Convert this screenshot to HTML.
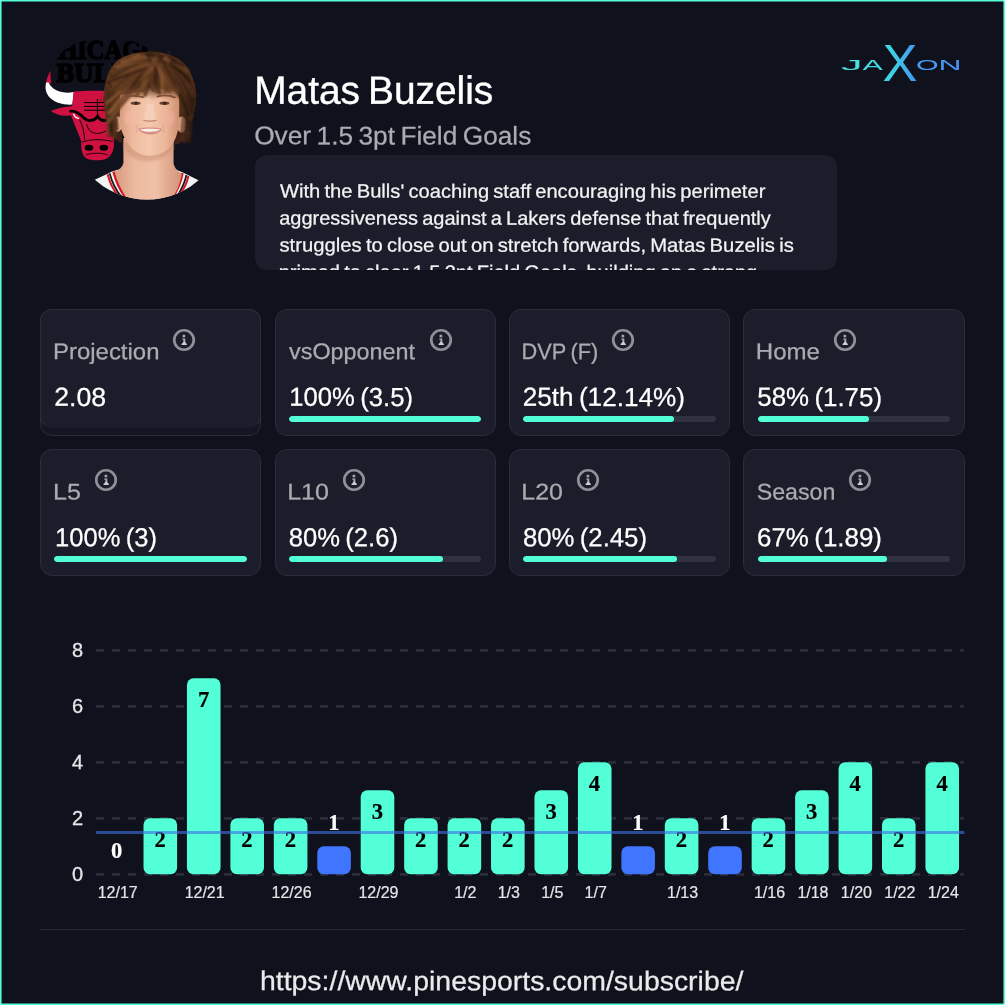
<!DOCTYPE html>
<html lang="en"><head><meta charset="utf-8"><title>Matas Buzelis - Over 1.5 3pt Field Goals</title>
<style>
*{box-sizing:border-box}
html,body{margin:0;padding:0;background:#fff}
body{width:1006px;height:1006px;overflow:hidden;font-family:'Liberation Sans', sans-serif;}
#page{position:absolute;left:0;top:0;width:1006px;height:1006px;overflow:hidden;background:#fff}
.frame{position:absolute;left:0;top:0}
header,section,figure,footer{display:block;margin:0;padding:0}
.t{position:absolute;white-space:pre;line-height:1;transform-origin:0 0;display:block;margin:0;padding:0;font-weight:400;text-decoration:none;word-spacing:-0.07em}
.t.b{-webkit-text-stroke:0.25px currentColor}
.t.b2{-webkit-text-stroke:0.4px currentColor}
.avatar{position:absolute;left:0;top:0}
.logo{position:absolute;left:836px;top:36px}
.desc{position:absolute;left:255px;top:155px;width:581.6px;height:115px;background:#1c1d2a;border-radius:12px;overflow:hidden}
.card{position:absolute;width:221px;height:127px;background:#1c1d2a;border:1px solid #2b2c3a;border-radius:12px}
.card.proj{background:#151623}
.card.proj .inner{position:absolute;left:-1px;top:-1px;width:221px;height:119px;background:#1c1d2a;border:1px solid #2b2c3a;border-bottom-color:transparent;border-radius:12px}
.info{position:absolute;top:17.5px;width:24px;height:24px}
.bar{position:absolute;left:13.1px;top:105.8px;width:192.8px;height:6.2px;border-radius:3.1px;background:#31323f;overflow:hidden}
.bar i{display:block;height:100%;border-radius:3.1px;background:#52ffd7}
.chart{position:absolute;left:0;top:620px}
.rule{position:absolute;left:40px;top:929px;width:925px;height:1px;background:#252735}
</style></head><body>
<div id="page">
<svg class="frame" width="1006" height="1006" viewBox="0 0 1006 1006"><rect x="0.78" y="0.78" width="1003.44" height="1003.44" fill="#0f111d" stroke="#52ffd7" stroke-width="1.56" rx="1"/></svg>
<header>
<svg class="avatar" width="240" height="220" viewBox="0 0 240 220" aria-label="Matas Buzelis, Chicago Bulls">
  <defs>
    <clipPath id="logoClip"><rect x="45" y="40" width="125" height="125" rx="50" ry="50"/></clipPath>
    <clipPath id="faceClip"><circle cx="147" cy="120.5" r="79"/></clipPath>
    <filter id="soft" x="-10%" y="-10%" width="120%" height="120%"><feGaussianBlur stdDeviation="0.7"/></filter>
    <filter id="soft1" x="-10%" y="-10%" width="120%" height="120%"><feGaussianBlur stdDeviation="1"/></filter>
    <filter id="soft2" x="-20%" y="-20%" width="140%" height="140%"><feGaussianBlur stdDeviation="1.6"/></filter>
    <filter id="soft3" x="-30%" y="-30%" width="160%" height="160%"><feGaussianBlur stdDeviation="3"/></filter>
    <linearGradient id="skin" x1="0" y1="0" x2="1" y2="0">
      <stop offset="0" stop-color="#d99c7e"/><stop offset="0.22" stop-color="#eebb9f"/><stop offset="0.5" stop-color="#f4c8ae"/><stop offset="0.78" stop-color="#ebb598"/><stop offset="1" stop-color="#d08f72"/>
    </linearGradient>
    <linearGradient id="neck" x1="0" y1="0" x2="1" y2="0">
      <stop offset="0" stop-color="#d89a7d"/><stop offset="0.3" stop-color="#ecba9f"/><stop offset="0.6" stop-color="#f0c1a7"/><stop offset="1" stop-color="#d39378"/>
    </linearGradient>
    <linearGradient id="fr" gradientUnits="userSpaceOnUse" x1="0" y1="84" x2="0" y2="102"><stop offset="0" stop-color="#6b4024" stop-opacity="0"/><stop offset="0.4" stop-color="#6f4327" stop-opacity="0.7"/><stop offset="0.7" stop-color="#7e4f30" stop-opacity="0.3"/><stop offset="1" stop-color="#8a5a3a" stop-opacity="0"/></linearGradient>
    <radialGradient id="hair" gradientUnits="userSpaceOnUse" cx="146" cy="78" r="62">
      <stop offset="0" stop-color="#754827"/><stop offset="0.55" stop-color="#5e381f"/><stop offset="1" stop-color="#3f2416"/>
    </radialGradient>
  </defs>
  <g clip-path="url(#logoClip)">
    <g font-family="'Liberation Serif', serif" font-weight="700" font-size="26.4" fill="#000" stroke="#000" stroke-width="1.5" stroke-linejoin="round">
      <text x="40.5" y="59.3" textLength="120" lengthAdjust="spacingAndGlyphs">CHICAGO</text>
      <text x="56.4" y="82.4" textLength="88" lengthAdjust="spacingAndGlyphs">BULLS</text>
    </g>
    <path d="M50.6 70.6 C48.2 75 46.6 79 46.1 83 L51.2 83.4 C50.5 78.6 50.4 74.4 50.6 70.6Z" fill="#ce1141"/>
    <path d="M46 82.6 C43.8 91.5 48.6 99.6 58 102.8 C62.6 104.4 67.4 104.8 72.4 104.6 L73.8 92.1 C65.8 93.4 58.4 92.6 53.4 88.6 C51 86.8 49.4 84.6 48.6 82.6Z" fill="#fff"/>
    <path d="M73.7 91.5 C86 90.4 102 90.5 120 91.6 L120 134 L113.6 135 L113.9 141.5 C114.6 150 111 157.6 104.4 159.4 C98.4 160.9 91 160.6 86.2 158.2 C82 155.6 80.6 148.6 81.4 141.6 L70.9 115.2 C64 116.8 57 115.4 50.8 111.1 C57 108.2 64.4 106.6 72.1 106.2 Z" fill="#ce1141"/>
    <path d="M70.6 111.2 C75.4 110.2 79.4 113.4 83.4 117.4 C88 122 94.4 121.4 97.6 116.2 C100 120.4 104 121.4 108.4 119.4" fill="none" stroke="#000" stroke-width="2.8" stroke-linecap="round"/>
    <path d="M73.6 113.6 C74.2 116.2 76.2 118 79.2 118.6" fill="none" stroke="#fff" stroke-width="1.4"/>
    <path d="M84 102.6 H105 M84 106.4 H105 M84 110.2 H105 M97.4 99 V116" fill="none" stroke="#000" stroke-width="1"/>
    <path d="M79.6 119.6 C82.8 126 84.4 133 84.6 140 M86.6 124 C88 132.4 96 136.4 106 131" fill="none" stroke="#000" stroke-width="0.9"/>
    <path d="M82.4 142 C91 139 103 139 112.6 141.6" fill="none" stroke="#000" stroke-width="0.9"/>
    <ellipse cx="89" cy="147.8" rx="4.3" ry="3" fill="#000"/>
    <ellipse cx="103.8" cy="147.8" rx="4.3" ry="3" fill="#000"/>
    <path d="M86 155 C92 152.6 102 152.6 108 155" fill="none" stroke="#000" stroke-width="0.8"/>
  </g>
  <g clip-path="url(#faceClip)">
    <!-- jersey -->
    <path d="M92 181 L106 174.6 L112 171.4 L124 168 L172 168 L183 172.6 L190 176 L202 182 L202 202 L92 202 Z" fill="#f2f2f3"/>
    <path d="M107.6 174.2 C109.6 182 113 189.4 118 195.6 M188.4 176 C187 182.6 184 189 180 194.4" fill="none" stroke="#d5151f" stroke-width="2"/>
    <path d="M109.6 173.2 C111.8 181.4 115.4 189.4 121 196.4 M186.4 175 C185 181.8 182 188.6 177.6 195.4" fill="none" stroke="#15151a" stroke-width="1.7"/>
    <path d="M113.6 171.6 C116 181 120 190 126 198 M182.4 173 C181 181 177.6 189.4 172.6 197" fill="none" stroke="#d5151f" stroke-width="2.6"/>
    <!-- neck + chest skin -->
    <path d="M123.4 138 L123.4 163 C122.6 167 119 170 114.6 171.6 C117 181 121.4 191 128 200 L171 200 C176.6 192 180.4 183 181.8 173.4 C177.6 171.4 174.4 168 173.6 163.6 L173.6 138 Z" fill="url(#neck)"/>
    <path d="M124 150 C131 158 140 161 148 161 C157 161 166 157 173.4 149 L173.4 141 L124 141 Z" fill="#c98d70" opacity="0.5" filter="url(#soft2)"/>
    <!-- hair back -->
    <path d="M149.8 52 C158 51.4 168 53.4 176 57.4 C184 61.6 190.6 70 193 79 C196 87 197 97 195.6 105 C194 113 192 120 190 127 C188.6 133 186 138 182 141.4 C180 143.4 177.4 144.4 175 144 L175 108 L122 108 L122 143 C118 142 114.4 138.4 111.4 133 C108 127 106 119 105 111 C103.4 103 103 95 104.4 88 C105.6 80 108 72 112.4 66 C116 60.6 121 57.4 127 55.4 C134 53 142 52 149.8 52 Z" fill="url(#hair)" filter="url(#soft)"/>
    <!-- ears -->
    <ellipse cx="117.6" cy="124" rx="4.6" ry="7.8" fill="#e9b196"/>
    <ellipse cx="181.8" cy="124.6" rx="4.8" ry="8.2" fill="#dfa487"/>
    <!-- face -->
    <path d="M119.8 100 C119.8 92 126 87 149 87 C172 87 179.2 92 179.2 100 L179.2 119 C179 128 177 136 173.4 143 C169 150 160 155.6 149.6 155.8 C139.6 155.6 132 150 127.6 143 C123 136 120 128 119.8 119 Z" fill="url(#skin)"/>
    <ellipse cx="131" cy="118" rx="7" ry="8" fill="#f3b9a4" opacity="0.55" filter="url(#soft2)"/>
    <ellipse cx="168" cy="118" rx="7" ry="8" fill="#f0b29c" opacity="0.5" filter="url(#soft2)"/>
    <!-- fringe -->
    <path d="M106 104 C105 84 117 60 148 58.6 C178 58.6 193 82 192.4 104 C189 99 184 94 179 94.4 C176 90 170 91.4 165 90 C160.6 86.6 156 87.6 153 92.4 C151.6 88.6 148 86 145.6 90 C143 94 139.4 90.6 135.6 91.6 C131 91.2 127.6 94.4 124.4 94.6 C119 94 111.6 98 106 104 Z" fill="#633b21" filter="url(#soft)"/>
    <g fill="none" stroke-linecap="round" filter="url(#soft1)">
      <path d="M106.6 97.0Q109.5 116.3 108.9 135.7" stroke="#2f1b11" stroke-width="3.1"/>
      <path d="M106.1 92.4Q111.3 111.6 109.3 131.4" stroke="#623b21" stroke-width="1.8"/>
      <path d="M109.9 103.0Q110.5 121.2 114.8 138.9" stroke="#2f1b11" stroke-width="2.5"/>
      <path d="M108.4 94.8Q110.8 114.4 113.3 134.0" stroke="#2f1b11" stroke-width="2.5"/>
      <path d="M108.1 95.0Q112.0 109.3 110.4 124.1" stroke="#623b21" stroke-width="2.3"/>
      <path d="M109.6 93.1Q111.2 115.0 113.1 137.0" stroke="#3a2114" stroke-width="1.7"/>
      <path d="M109.0 90.9Q114.6 110.6 113.2 131.0" stroke="#623b21" stroke-width="2.3"/>
      <path d="M106.6 93.8Q107.1 114.5 108.8 135.1" stroke="#623b21" stroke-width="2.9"/>
      <path d="M107.9 91.0Q113.7 112.6 112.4 134.9" stroke="#2f1b11" stroke-width="3.1"/>
      <path d="M110.1 85.2Q111.0 105.9 115.7 126.2" stroke="#54321c" stroke-width="2.1"/>
      <path d="M110.2 84.5Q115.6 99.7 114.5 115.8" stroke="#2f1b11" stroke-width="1.9"/>
      <path d="M110.7 92.0Q116.9 110.4 117.3 129.9" stroke="#54321c" stroke-width="2.5"/>
      <path d="M111.2 101.3Q114.8 119.3 114.6 137.6" stroke="#54321c" stroke-width="3.1"/>
      <path d="M106.7 88.6Q108.8 107.4 109.9 126.3" stroke="#472a18" stroke-width="2.1"/>
      <path d="M194.0 94.7Q192.7 112.1 188.9 129.1" stroke="#2f1b11" stroke-width="2.3"/>
      <path d="M188.9 103.0Q185.8 122.6 183.5 142.2" stroke="#54321c" stroke-width="1.8"/>
      <path d="M190.6 85.2Q190.4 101.4 188.2 117.4" stroke="#472a18" stroke-width="2.6"/>
      <path d="M194.3 95.3Q190.3 118.7 189.6 142.3" stroke="#2f1b11" stroke-width="3.0"/>
      <path d="M190.7 87.0Q188.9 104.4 187.4 121.9" stroke="#2f1b11" stroke-width="1.8"/>
      <path d="M191.6 103.6Q190.5 120.8 187.2 137.8" stroke="#472a18" stroke-width="2.8"/>
      <path d="M191.6 97.8Q185.7 113.4 187.1 129.9" stroke="#472a18" stroke-width="1.8"/>
      <path d="M191.2 84.5Q185.7 108.0 186.6 132.1" stroke="#472a18" stroke-width="2.4"/>
      <path d="M188.6 91.1Q186.1 110.4 185.5 129.9" stroke="#3a2114" stroke-width="2.6"/>
      <path d="M189.5 99.2Q187.6 115.5 186.5 132.0" stroke="#3a2114" stroke-width="1.9"/>
      <path d="M191.6 98.6Q187.3 120.4 184.6 142.4" stroke="#3a2114" stroke-width="2.7"/>
      <path d="M188.3 92.9Q181.3 116.3 181.6 140.7" stroke="#472a18" stroke-width="1.7"/>
      <path d="M194.3 93.4Q188.5 111.8 190.6 131.1" stroke="#2f1b11" stroke-width="2.4"/>
      <path d="M190.4 100.0Q185.8 120.4 188.0 141.2" stroke="#3a2114" stroke-width="2.4"/>
      <path d="M158.1 62.5Q126.7 86.2 108.8 121.2" stroke="#623b21" stroke-width="2.4"/>
      <path d="M164.9 57.6Q134.2 87.7 108.1 122.0" stroke="#724627" stroke-width="3.2"/>
      <path d="M165.7 58.0Q132.6 81.0 109.3 113.9" stroke="#54321c" stroke-width="1.9"/>
      <path d="M162.6 57.1Q133.3 82.5 109.2 112.9" stroke="#855431" stroke-width="3.3"/>
      <path d="M161.2 63.1Q131.9 78.3 107.9 100.8" stroke="#54321c" stroke-width="2.5"/>
      <path d="M165.2 59.3Q133.9 78.6 106.8 103.3" stroke="#855431" stroke-width="2.2"/>
      <path d="M161.5 61.1Q131.0 69.0 109.0 91.7" stroke="#724627" stroke-width="1.8"/>
      <path d="M157.8 60.6Q129.7 71.3 108.9 93.1" stroke="#472a18" stroke-width="1.9"/>
      <path d="M161.7 62.1Q133.4 67.0 109.7 83.3" stroke="#724627" stroke-width="2.5"/>
      <path d="M165.3 63.2Q135.5 69.9 107.7 82.8" stroke="#3a2114" stroke-width="2.5"/>
      <path d="M162.7 62.3Q136.4 62.6 113.6 75.8" stroke="#724627" stroke-width="2.7"/>
      <path d="M158.4 58.9Q133.0 62.5 112.0 77.2" stroke="#472a18" stroke-width="2.9"/>
      <path d="M166.5 63.6Q139.6 57.8 114.5 69.2" stroke="#623b21" stroke-width="1.8"/>
      <path d="M157.5 60.1Q135.0 60.6 113.8 68.0" stroke="#855431" stroke-width="2.1"/>
      <path d="M157.5 62.4Q139.4 57.8 121.8 63.6" stroke="#54321c" stroke-width="3.2"/>
      <path d="M167.6 58.5Q144.2 54.7 121.8 62.6" stroke="#855431" stroke-width="3.1"/>
      <path d="M157.9 60.0Q142.7 55.0 127.1 58.4" stroke="#54321c" stroke-width="1.8"/>
      <path d="M160.4 59.4Q143.5 54.3 126.8 59.8" stroke="#724627" stroke-width="2.7"/>
      <path d="M162.1 57.5Q149.5 48.7 136.9 57.6" stroke="#3a2114" stroke-width="1.8"/>
      <path d="M159.3 63.3Q148.3 52.7 133.7 57.4" stroke="#855431" stroke-width="3.1"/>
      <path d="M159.1 58.0Q153.9 49.5 145.7 55.1" stroke="#3a2114" stroke-width="2.1"/>
      <path d="M165.6 58.3Q156.3 53.1 145.6 53.9" stroke="#3a2114" stroke-width="3.0"/>
      <path d="M158.8 63.0Q179.4 88.1 190.7 118.5" stroke="#472a18" stroke-width="3.4"/>
      <path d="M162.2 63.4Q178.7 87.6 188.5 115.2" stroke="#2f1b11" stroke-width="3.3"/>
      <path d="M160.6 58.3Q179.6 80.4 190.3 107.5" stroke="#3a2114" stroke-width="2.1"/>
      <path d="M163.0 58.2Q183.3 78.2 192.6 105.1" stroke="#2f1b11" stroke-width="1.6"/>
      <path d="M163.1 63.8Q181.9 76.3 192.9 96.0" stroke="#54321c" stroke-width="2.8"/>
      <path d="M163.5 63.2Q182.4 75.4 191.1 96.2" stroke="#3a2114" stroke-width="2.2"/>
      <path d="M166.3 61.9Q182.9 70.7 190.9 87.6" stroke="#2f1b11" stroke-width="3.1"/>
      <path d="M158.1 61.4Q178.9 68.7 189.9 87.7" stroke="#54321c" stroke-width="3.2"/>
      <path d="M164.7 59.0Q180.6 65.0 190.0 79.2" stroke="#3a2114" stroke-width="2.1"/>
      <path d="M158.0 59.5Q177.4 65.8 189.7 81.9" stroke="#2f1b11" stroke-width="3.3"/>
      <path d="M161.1 59.5Q176.5 60.8 187.6 71.5" stroke="#623b21" stroke-width="2.8"/>
      <path d="M160.5 62.4Q176.5 61.2 187.2 73.3" stroke="#623b21" stroke-width="1.7"/>
      <path d="M158.2 59.1Q171.4 57.6 182.1 65.3" stroke="#3a2114" stroke-width="2.8"/>
      <path d="M165.2 63.2Q173.4 61.6 181.4 64.3" stroke="#3a2114" stroke-width="2.1"/>
      <path d="M164.2 58.0Q170.0 54.8 172.7 60.9" stroke="#54321c" stroke-width="2.9"/>
      <path d="M166.1 58.0Q170.8 56.1 173.9 60.0" stroke="#2f1b11" stroke-width="3.1"/>
      <path d="M163.8 63.2Q157.5 59.7 164.3 57.2" stroke="#2f1b11" stroke-width="1.7"/>
      <path d="M164.4 63.7Q157.3 58.8 165.5 56.2" stroke="#2f1b11" stroke-width="2.7"/>
      <path d="M164.8 60.4Q159.1 61.1 157.0 55.8" stroke="#623b21" stroke-width="3.2"/>
      <path d="M158.9 60.7Q154.0 59.5 154.0 54.5" stroke="#472a18" stroke-width="2.0"/>
      <path d="M165.6 58.6Q155.3 59.2 146.4 54.0" stroke="#2f1b11" stroke-width="2.5"/>
      <path d="M164.8 62.4Q152.8 65.5 146.5 54.8" stroke="#3a2114" stroke-width="2.2"/>
      <path d="M164.4 62.9Q141.0 72.3 122.4 89.3" stroke="#623b21" stroke-width="2.3"/>
      <path d="M164.8 62.8Q141.1 72.7 122.5 90.2" stroke="#623b21" stroke-width="2.6"/>
      <path d="M166.3 65.0Q144.3 76.7 125.0 92.6" stroke="#623b21" stroke-width="1.8"/>
      <path d="M161.3 63.7Q141.7 76.0 126.3 93.4" stroke="#472a18" stroke-width="3.4"/>
      <path d="M168.9 58.5Q145.7 72.9 126.6 92.4" stroke="#54321c" stroke-width="2.0"/>
      <path d="M167.1 61.6Q146.1 74.4 129.0 92.2" stroke="#623b21" stroke-width="2.5"/>
      <path d="M156.5 64.6Q140.0 72.7 131.2 88.9" stroke="#623b21" stroke-width="2.4"/>
      <path d="M159.1 63.9Q140.0 72.8 129.2 91.0" stroke="#3a2114" stroke-width="3.5"/>
      <path d="M157.1 58.1Q143.8 73.3 134.3 91.1" stroke="#623b21" stroke-width="3.6"/>
      <path d="M163.4 60.5Q146.8 74.3 133.4 91.2" stroke="#3a2114" stroke-width="1.9"/>
      <path d="M164.6 62.4Q146.9 76.5 135.4 96.1" stroke="#54321c" stroke-width="2.1"/>
      <path d="M160.0 64.7Q144.7 76.9 137.7 95.1" stroke="#724627" stroke-width="2.8"/>
      <path d="M165.5 58.3Q148.3 70.4 140.1 89.7" stroke="#855431" stroke-width="3.4"/>
      <path d="M161.8 64.4Q147.7 73.4 139.6 88.0" stroke="#54321c" stroke-width="2.3"/>
      <path d="M165.8 64.8Q151.1 75.6 141.6 91.1" stroke="#724627" stroke-width="3.0"/>
      <path d="M155.9 62.5Q143.1 73.4 141.0 90.1" stroke="#724627" stroke-width="2.2"/>
      <path d="M168.5 65.0Q154.6 76.1 145.0 91.2" stroke="#3a2114" stroke-width="2.1"/>
      <path d="M162.9 60.2Q151.2 76.4 144.8 95.2" stroke="#3a2114" stroke-width="3.1"/>
      <path d="M160.6 60.9Q151.0 73.5 148.2 89.1" stroke="#3a2114" stroke-width="2.7"/>
      <path d="M163.2 60.5Q150.6 72.7 148.7 90.0" stroke="#472a18" stroke-width="2.0"/>
      <path d="M168.3 60.7Q156.9 71.6 151.4 86.5" stroke="#3a2114" stroke-width="2.0"/>
      <path d="M160.8 63.3Q152.1 75.1 151.9 89.7" stroke="#3a2114" stroke-width="2.5"/>
      <path d="M168.8 63.8Q159.0 76.2 155.0 91.5" stroke="#3a2114" stroke-width="2.2"/>
      <path d="M156.4 64.8Q149.1 76.9 152.7 90.6" stroke="#623b21" stroke-width="2.0"/>
      <path d="M166.4 58.0Q159.0 74.1 155.7 91.6" stroke="#855431" stroke-width="2.3"/>
      <path d="M156.0 59.8Q154.1 76.2 157.2 92.4" stroke="#3a2114" stroke-width="2.3"/>
      <path d="M169.1 59.3Q162.1 75.6 159.0 93.0" stroke="#724627" stroke-width="2.3"/>
      <path d="M161.4 64.7Q156.4 79.0 160.1 93.6" stroke="#472a18" stroke-width="2.8"/>
      <path d="M154.5 60.9Q163.5 72.2 163.0 86.7" stroke="#855431" stroke-width="3.0"/>
      <path d="M155.3 59.6Q162.3 73.3 162.4 88.6" stroke="#855431" stroke-width="2.4"/>
      <path d="M160.7 62.8Q164.9 78.1 164.6 94.1" stroke="#724627" stroke-width="1.9"/>
      <path d="M161.9 59.4Q167.8 74.4 166.3 90.5" stroke="#54321c" stroke-width="3.2"/>
      <path d="M158.7 64.7Q168.1 76.5 168.4 91.6" stroke="#623b21" stroke-width="3.4"/>
      <path d="M154.9 62.2Q167.5 73.8 169.7 90.8" stroke="#724627" stroke-width="2.1"/>
      <path d="M154.8 58.4Q164.3 74.8 171.0 92.6" stroke="#855431" stroke-width="2.0"/>
      <path d="M155.3 59.2Q165.9 73.7 170.4 91.1" stroke="#623b21" stroke-width="1.9"/>
      <path d="M164.6 60.7Q174.1 73.2 173.8 88.9" stroke="#3a2114" stroke-width="1.9"/>
      <path d="M155.3 60.9Q167.1 74.4 175.4 90.3" stroke="#623b21" stroke-width="2.4"/>
      <path d="M167.1 63.8Q175.4 75.9 176.9 90.5" stroke="#54321c" stroke-width="2.8"/>
      <path d="M161.1 60.3Q172.0 75.4 177.8 93.0" stroke="#472a18" stroke-width="3.3"/>
      <path d="M110.4 124.0Q111.1 127.7 109.9 131.3" stroke="#2f1b11" stroke-width="1.2" opacity="0.9"/>
      <path d="M109.2 115.0Q107.4 118.2 104.2 120.0" stroke="#472a18" stroke-width="1.3" opacity="0.9"/>
      <path d="M109.0 110.6Q105.9 108.3 102.3 109.6" stroke="#2f1b11" stroke-width="0.7" opacity="0.9"/>
      <path d="M107.6 99.6Q103.9 100.4 100.2 100.3" stroke="#472a18" stroke-width="1.2" opacity="0.9"/>
      <path d="M110.3 83.4Q107.3 82.8 105.1 80.9" stroke="#3a2114" stroke-width="1.1" opacity="0.9"/>
      <path d="M112.9 74.8Q109.5 75.7 106.8 73.4" stroke="#3a2114" stroke-width="0.9" opacity="0.9"/>
      <path d="M116.0 69.0Q113.1 67.2 110.1 65.8" stroke="#3a2114" stroke-width="1.3" opacity="0.9"/>
      <path d="M135.6 56.1Q133.4 54.0 130.5 53.4" stroke="#54321c" stroke-width="0.8" opacity="0.9"/>
      <path d="M142.1 56.7Q141.2 53.7 140.1 50.9" stroke="#2f1b11" stroke-width="1.2" opacity="0.9"/>
      <path d="M178.5 137.0Q181.6 137.7 183.8 140.0" stroke="#54321c" stroke-width="0.8" opacity="0.9"/>
      <path d="M182.6 132.4Q186.3 132.2 189.8 133.4" stroke="#54321c" stroke-width="0.9" opacity="0.9"/>
      <path d="M186.4 121.6Q189.2 123.2 191.9 125.0" stroke="#2f1b11" stroke-width="0.8" opacity="0.9"/>
      <path d="M189.7 111.7Q193.3 113.7 193.8 117.7" stroke="#472a18" stroke-width="0.8" opacity="0.9"/>
      <path d="M191.2 103.7Q195.1 103.0 198.0 105.6" stroke="#3a2114" stroke-width="1.0" opacity="0.9"/>
      <path d="M192.4 93.3Q195.6 94.9 199.1 95.7" stroke="#472a18" stroke-width="0.8" opacity="0.9"/>
      <path d="M191.9 89.2Q194.1 87.0 195.6 84.4" stroke="#3a2114" stroke-width="1.2" opacity="0.9"/>
      <path d="M186.0 73.0Q186.9 69.5 190.4 68.7" stroke="#54321c" stroke-width="1.0" opacity="0.9"/>
      <path d="M183.8 67.0Q184.5 63.7 184.1 60.4" stroke="#2f1b11" stroke-width="1.1" opacity="0.9"/>
      <path d="M176.3 61.9Q176.6 58.5 177.6 55.2" stroke="#2f1b11" stroke-width="0.9" opacity="0.9"/>
      <path d="M167.5 58.4Q169.9 55.0 168.3 51.2" stroke="#472a18" stroke-width="1.1" opacity="0.9"/>
      <path d="M158.0 56.6Q156.6 53.4 158.0 50.2" stroke="#2f1b11" stroke-width="1.2" opacity="0.9"/>
      <path d="M147.5 55.3Q148.1 51.7 151.5 50.8" stroke="#3a2114" stroke-width="1.1" opacity="0.9"/>
    </g>
    <path d="M121 84 H179 V101 C176 99 172 98 166 98.6 C160 96 156 97 152 100 C150 96 146 95 142 98 C136 97 130 98 125 100 C123 100 122 100.6 121 101 Z" fill="url(#fr)" filter="url(#soft2)"/>
    <!-- brows, eyes -->
    <path d="M125 97.4 C130 95.4 137 95.6 143 97.2 M157.4 96.6 C163 95 170 95.2 175 97.6" fill="none" stroke="#7d4e36" stroke-width="1.9" stroke-linecap="round" filter="url(#soft)"/>
    <ellipse cx="135.6" cy="103.2" rx="5" ry="1.7" fill="#6a4330"/>
    <ellipse cx="164.4" cy="103.2" rx="5" ry="1.7" fill="#6a4330"/>
    <circle cx="136" cy="103.2" r="1.5" fill="#3c2216"/>
    <circle cx="164.8" cy="103.2" r="1.5" fill="#3c2216"/>
    <!-- nose -->
    <path d="M146.4 104 C146 110 145 115 144 119 C146 121.6 153.6 121.6 156 119 C155 115 154 110 153.6 104 Z" fill="#f7d3bf" opacity="0.7" filter="url(#soft)"/>
    <path d="M143.8 120.2 C146.4 121.6 153.4 121.6 156.2 120.2" fill="none" stroke="#c58a72" stroke-width="1.4" stroke-linecap="round" filter="url(#soft)"/>
    <path d="M138 124 C136 127 135.6 130 136.6 133 M162 124 C164 127 164.4 130 163.4 133" fill="none" stroke="#dba58c" stroke-width="1.2" opacity="0.7" filter="url(#soft)"/>
    <!-- mouth -->
    <path d="M137.6 128.8 C144 127.2 156 127.2 162.4 129 C158 136.4 143 136.4 137.6 128.8 Z" fill="#d78f88"/>
    <path d="M139.6 129.4 C145 128.4 155 128.4 160.4 129.6 C156 132.6 144 132.6 139.6 129.4 Z" fill="#f8f1e8"/>
  </g>
</svg>

<svg class="logo" width="130" height="52" viewBox="0 0 130 52" aria-label="JAXON">
  <defs>
    <linearGradient id="lg" gradientUnits="userSpaceOnUse" x1="5" y1="0" x2="124" y2="0">
      <stop offset="0" stop-color="#4ce8dc"/><stop offset="0.42" stop-color="#3fd2e2"/><stop offset="0.6" stop-color="#429ff0"/><stop offset="1" stop-color="#4a92f7"/>
    </linearGradient>
  </defs>
  <text font-family="'Liberation Sans', sans-serif" fill="url(#lg)" font-size="15.2" y="34.1"><tspan x="5" textLength="21.5" lengthAdjust="spacingAndGlyphs">J</tspan><tspan x="26.6" textLength="20.4" lengthAdjust="spacingAndGlyphs">A</tspan><tspan x="46.6" y="45.3" font-size="52" textLength="35" lengthAdjust="spacingAndGlyphs">X</tspan><tspan x="80" y="34.1" textLength="22.6" lengthAdjust="spacingAndGlyphs">O</tspan><tspan x="102.4" y="34.1" textLength="23" lengthAdjust="spacingAndGlyphs">N</tspan></text>
</svg>

<h1 class="t b2" style="left:254px;top:70px;font-size:39.4px;color:#ffffff;transform:translate(0.20px,0.63px) scaleX(0.9859) rotate(0.03deg);">Matas Buzelis</h1>
<h2 class="t b" style="left:254px;top:123px;font-size:25.6px;color:#ababb0;transform:translate(0.22px,0.35px) scaleX(1.0254) rotate(0.03deg);">Over 1.5 3pt Field Goals</h2>
<div class="desc">
<span class="t b" style="left:25px;top:26px;font-size:19.2px;color:#f3f3f4;transform:translate(0.00px,0.57px) scaleX(1.0504) rotate(0.03deg);">With the Bulls' coaching staff encouraging his perimeter</span>
<span class="t b" style="left:24px;top:53px;font-size:19.2px;color:#f3f3f4;transform:translate(0.22px,0.56px) scaleX(1.0416) rotate(0.03deg);">aggressiveness against a Lakers defense that frequently</span>
<span class="t b" style="left:24px;top:80px;font-size:19.2px;color:#f3f3f4;transform:translate(0.47px,0.56px) scaleX(1.0561) rotate(0.03deg);">struggles to close out on stretch forwards, Matas Buzelis is</span>
<span class="t b" style="left:23px;top:107px;font-size:19.2px;color:#f3f3f4;transform:translate(0.69px,0.57px) scaleX(1.0450) rotate(0.03deg);">primed to clear 1.5 3pt Field Goals, building on a strong</span>
</div>
</header>
<section class="stats">
<div class="card proj" style="left:40px;top:309px;width:221px"><div class="inner"></div>
<span class="t b" style="left:12px;top:31px;font-size:22.6px;color:#ababb0;transform:translate(0.05px,0.11px) scaleX(1.0591) rotate(0.03deg);">Projection</span>
<svg class="info" style="left:131.2px" viewBox="0 0 24 24" aria-hidden="true"><circle cx="12" cy="12" r="9.75" fill="none" stroke="#909098" stroke-width="2.7"/><circle cx="11.9" cy="7.9" r="1.5" fill="#a2a2a8"/><path d="M10.3 10.5h3v3.6h-1.9v-2.3h-1.1z" fill="#a8a8ae"/><path d="M11.3 13.7h2c.1 1 .7 1.6 1.5 2v1.2H9.6v-1.2c.8-.4 1.5-1 1.7-2z" fill="#cfcfd4"/></svg>
<span class="t b" style="left:13px;top:73px;font-size:26px;color:#ffffff;transform:translate(0.22px,0.87px) scaleX(1.0259) rotate(0.03deg);">2.08</span>
</div>
<div class="card" style="left:275px;top:309px;width:221px">
<span class="t b" style="left:13px;top:31px;font-size:22.6px;color:#ababb0;transform:translate(0.10px,0.11px) scaleX(1.0333) rotate(0.03deg);">vsOpponent</span>
<svg class="info" style="left:153.2px" viewBox="0 0 24 24" aria-hidden="true"><circle cx="12" cy="12" r="9.75" fill="none" stroke="#909098" stroke-width="2.7"/><circle cx="11.9" cy="7.9" r="1.5" fill="#a2a2a8"/><path d="M10.3 10.5h3v3.6h-1.9v-2.3h-1.1z" fill="#a8a8ae"/><path d="M11.3 13.7h2c.1 1 .7 1.6 1.5 2v1.2H9.6v-1.2c.8-.4 1.5-1 1.7-2z" fill="#cfcfd4"/></svg>
<span class="t b" style="left:13px;top:73px;font-size:26px;color:#ffffff;transform:translate(0.33px,0.85px) scaleX(0.9864) rotate(0.03deg);">100% (3.5)</span>
<div class="bar" style="left:12.6px"><i style="width:100%"></i></div></div>
<div class="card" style="left:509px;top:309px;width:221px">
<span class="t b" style="left:11px;top:31px;font-size:22.6px;color:#ababb0;transform:translate(0.62px,0.12px) scaleX(0.9621) rotate(0.03deg);">DVP (F)</span>
<svg class="info" style="left:101.2px" viewBox="0 0 24 24" aria-hidden="true"><circle cx="12" cy="12" r="9.75" fill="none" stroke="#909098" stroke-width="2.7"/><circle cx="11.9" cy="7.9" r="1.5" fill="#a2a2a8"/><path d="M10.3 10.5h3v3.6h-1.9v-2.3h-1.1z" fill="#a8a8ae"/><path d="M11.3 13.7h2c.1 1 .7 1.6 1.5 2v1.2H9.6v-1.2c.8-.4 1.5-1 1.7-2z" fill="#cfcfd4"/></svg>
<span class="t b" style="left:12px;top:73px;font-size:26px;color:#ffffff;transform:translate(0.64px,0.84px) scaleX(1.0047) rotate(0.03deg);">25th (12.14%)</span>
<div class="bar" style="left:13.1px"><i style="width:78.1%"></i></div></div>
<div class="card" style="left:743px;top:309px;width:222px">
<span class="t b" style="left:11px;top:31px;font-size:22.6px;color:#ababb0;transform:translate(0.84px,0.12px) scaleX(1.0643) rotate(0.03deg);">Home</span>
<svg class="info" style="left:89.2px" viewBox="0 0 24 24" aria-hidden="true"><circle cx="12" cy="12" r="9.75" fill="none" stroke="#909098" stroke-width="2.7"/><circle cx="11.9" cy="7.9" r="1.5" fill="#a2a2a8"/><path d="M10.3 10.5h3v3.6h-1.9v-2.3h-1.1z" fill="#a8a8ae"/><path d="M11.3 13.7h2c.1 1 .7 1.6 1.5 2v1.2H9.6v-1.2c.8-.4 1.5-1 1.7-2z" fill="#cfcfd4"/></svg>
<span class="t b" style="left:13px;top:73px;font-size:26px;color:#ffffff;transform:translate(0.31px,0.85px) scaleX(0.9947) rotate(0.03deg);">58% (1.75)</span>
<div class="bar" style="left:13.6px"><i style="width:58%"></i></div></div>
<div class="card" style="left:40px;top:449px;width:221px">
<span class="t b" style="left:11px;top:31px;font-size:22.6px;color:#ababb0;transform:translate(0.96px,0.43px) scaleX(1.1111) rotate(0.03deg);">L5</span>
<svg class="info" style="left:53.2px" viewBox="0 0 24 24" aria-hidden="true"><circle cx="12" cy="12" r="9.75" fill="none" stroke="#909098" stroke-width="2.7"/><circle cx="11.9" cy="7.9" r="1.5" fill="#a2a2a8"/><path d="M10.3 10.5h3v3.6h-1.9v-2.3h-1.1z" fill="#a8a8ae"/><path d="M11.3 13.7h2c.1 1 .7 1.6 1.5 2v1.2H9.6v-1.2c.8-.4 1.5-1 1.7-2z" fill="#cfcfd4"/></svg>
<span class="t b" style="left:14px;top:74px;font-size:26px;color:#ffffff;transform:translate(0.13px,0.16px) scaleX(0.9830) rotate(0.03deg);">100% (3)</span>
<div class="bar" style="left:13.0px"><i style="width:100%"></i></div></div>
<div class="card" style="left:275px;top:449px;width:221px">
<span class="t b" style="left:11px;top:31px;font-size:22.6px;color:#ababb0;transform:translate(0.16px,0.43px) scaleX(1.1086) rotate(0.03deg);">L10</span>
<svg class="info" style="left:66.2px" viewBox="0 0 24 24" aria-hidden="true"><circle cx="12" cy="12" r="9.75" fill="none" stroke="#909098" stroke-width="2.7"/><circle cx="11.9" cy="7.9" r="1.5" fill="#a2a2a8"/><path d="M10.3 10.5h3v3.6h-1.9v-2.3h-1.1z" fill="#a8a8ae"/><path d="M11.3 13.7h2c.1 1 .7 1.6 1.5 2v1.2H9.6v-1.2c.8-.4 1.5-1 1.7-2z" fill="#cfcfd4"/></svg>
<span class="t b" style="left:12px;top:74px;font-size:26px;color:#ffffff;transform:translate(0.71px,0.16px) scaleX(0.9857) rotate(0.03deg);">80% (2.6)</span>
<div class="bar" style="left:12.6px"><i style="width:80%"></i></div></div>
<div class="card" style="left:509px;top:449px;width:221px">
<span class="t b" style="left:11px;top:31px;font-size:22.6px;color:#ababb0;transform:translate(0.37px,0.43px) scaleX(1.1029) rotate(0.03deg);">L20</span>
<svg class="info" style="left:66.2px" viewBox="0 0 24 24" aria-hidden="true"><circle cx="12" cy="12" r="9.75" fill="none" stroke="#909098" stroke-width="2.7"/><circle cx="11.9" cy="7.9" r="1.5" fill="#a2a2a8"/><path d="M10.3 10.5h3v3.6h-1.9v-2.3h-1.1z" fill="#a8a8ae"/><path d="M11.3 13.7h2c.1 1 .7 1.6 1.5 2v1.2H9.6v-1.2c.8-.4 1.5-1 1.7-2z" fill="#cfcfd4"/></svg>
<span class="t b" style="left:12px;top:74px;font-size:26px;color:#ffffff;transform:translate(0.91px,0.15px) scaleX(0.9898) rotate(0.03deg);">80% (2.45)</span>
<div class="bar" style="left:13.1px"><i style="width:80%"></i></div></div>
<div class="card" style="left:743px;top:449px;width:222px">
<span class="t b" style="left:12px;top:31px;font-size:22.6px;color:#ababb0;transform:translate(0.67px,0.42px) scaleX(1.0263) rotate(0.03deg);">Season</span>
<svg class="info" style="left:104.2px" viewBox="0 0 24 24" aria-hidden="true"><circle cx="12" cy="12" r="9.75" fill="none" stroke="#909098" stroke-width="2.7"/><circle cx="11.9" cy="7.9" r="1.5" fill="#a2a2a8"/><path d="M10.3 10.5h3v3.6h-1.9v-2.3h-1.1z" fill="#a8a8ae"/><path d="M11.3 13.7h2c.1 1 .7 1.6 1.5 2v1.2H9.6v-1.2c.8-.4 1.5-1 1.7-2z" fill="#cfcfd4"/></svg>
<span class="t b" style="left:13px;top:74px;font-size:26px;color:#ffffff;transform:translate(0.05px,0.15px) scaleX(0.9967) rotate(0.03deg);">67% (1.89)</span>
<div class="bar" style="left:13.6px"><i style="width:67%"></i></div></div>
</section>
<figure>
<svg class="chart" width="1006" height="300" viewBox="0 0 1006 300">
<g stroke="#2b2c39" stroke-width="2.6" stroke-dasharray="8 8" fill="none">
<path d="M96 254.40H964.3"/>
<path d="M96 198.40H964.3"/>
<path d="M96 142.40H964.3"/>
<path d="M96 86.40H964.3"/>
<path d="M96 30.40H964.3"/>
</g>
<g font-family="'Liberation Sans', sans-serif" font-size="20" fill="#e6e6e8" stroke="#e6e6e8" stroke-width="0.3" text-anchor="end">
<text x="83.2" y="261.00">0</text>
<text x="83.2" y="205.00">2</text>
<text x="83.2" y="149.00">4</text>
<text x="83.2" y="93.00">6</text>
<text x="83.2" y="37.00">8</text>
</g>
<g>
<rect x="143.51" y="198.25" width="33.6" height="56.00" rx="6.5" fill="#52ffd7"/>
<rect x="186.95" y="58.25" width="33.6" height="196.00" rx="6.5" fill="#52ffd7"/>
<rect x="230.39" y="198.25" width="33.6" height="56.00" rx="6.5" fill="#52ffd7"/>
<rect x="273.83" y="198.25" width="33.6" height="56.00" rx="6.5" fill="#52ffd7"/>
<rect x="317.27" y="226.25" width="33.6" height="28.00" rx="6.5" fill="#3f75ff"/>
<rect x="360.71" y="170.25" width="33.6" height="84.00" rx="6.5" fill="#52ffd7"/>
<rect x="404.15" y="198.25" width="33.6" height="56.00" rx="6.5" fill="#52ffd7"/>
<rect x="447.59" y="198.25" width="33.6" height="56.00" rx="6.5" fill="#52ffd7"/>
<rect x="491.03" y="198.25" width="33.6" height="56.00" rx="6.5" fill="#52ffd7"/>
<rect x="534.47" y="170.25" width="33.6" height="84.00" rx="6.5" fill="#52ffd7"/>
<rect x="577.91" y="142.25" width="33.6" height="112.00" rx="6.5" fill="#52ffd7"/>
<rect x="621.35" y="226.25" width="33.6" height="28.00" rx="6.5" fill="#3f75ff"/>
<rect x="664.79" y="198.25" width="33.6" height="56.00" rx="6.5" fill="#52ffd7"/>
<rect x="708.23" y="226.25" width="33.6" height="28.00" rx="6.5" fill="#3f75ff"/>
<rect x="751.67" y="198.25" width="33.6" height="56.00" rx="6.5" fill="#52ffd7"/>
<rect x="795.11" y="170.25" width="33.6" height="84.00" rx="6.5" fill="#52ffd7"/>
<rect x="838.55" y="142.25" width="33.6" height="112.00" rx="6.5" fill="#52ffd7"/>
<rect x="881.99" y="198.25" width="33.6" height="56.00" rx="6.5" fill="#52ffd7"/>
<rect x="925.43" y="142.25" width="33.6" height="112.00" rx="6.5" fill="#52ffd7"/>
</g>
<g font-family="'Liberation Serif', serif" font-weight="700" font-size="22.6" text-anchor="middle" stroke-width="0.2">
<text x="116.67" y="238.00" fill="#fff" stroke="#fff">0</text>
<text x="160.11" y="227.30" fill="#000" stroke="#000">2</text>
<text x="203.55" y="87.30" fill="#000" stroke="#000">7</text>
<text x="246.99" y="227.30" fill="#000" stroke="#000">2</text>
<text x="290.43" y="227.30" fill="#000" stroke="#000">2</text>
<text x="333.87" y="210.00" fill="#fff" stroke="#fff">1</text>
<text x="377.31" y="199.30" fill="#000" stroke="#000">3</text>
<text x="420.75" y="227.30" fill="#000" stroke="#000">2</text>
<text x="464.19" y="227.30" fill="#000" stroke="#000">2</text>
<text x="507.63" y="227.30" fill="#000" stroke="#000">2</text>
<text x="551.07" y="199.30" fill="#000" stroke="#000">3</text>
<text x="594.51" y="171.30" fill="#000" stroke="#000">4</text>
<text x="637.95" y="210.00" fill="#fff" stroke="#fff">1</text>
<text x="681.39" y="227.30" fill="#000" stroke="#000">2</text>
<text x="724.83" y="210.00" fill="#fff" stroke="#fff">1</text>
<text x="768.27" y="227.30" fill="#000" stroke="#000">2</text>
<text x="811.71" y="199.30" fill="#000" stroke="#000">3</text>
<text x="855.15" y="171.30" fill="#000" stroke="#000">4</text>
<text x="898.59" y="227.30" fill="#000" stroke="#000">2</text>
<text x="942.03" y="171.30" fill="#000" stroke="#000">4</text>
</g>
<path d="M96 212.50H964.3" stroke="#3f6fe0" stroke-opacity="0.62" stroke-width="3.2" fill="none"/>
<g font-family="'Liberation Sans', sans-serif" font-size="16" fill="#e6e6e8" stroke="#e6e6e8" stroke-width="0.2" text-anchor="middle">
<text x="117.75" y="278.00">12/17</text>
<text x="204.65" y="278.00">12/21</text>
<text x="291.55" y="278.00">12/26</text>
<text x="378.45" y="278.00">12/29</text>
<text x="465.35" y="278.00">1/2</text>
<text x="508.80" y="278.00">1/3</text>
<text x="552.25" y="278.00">1/5</text>
<text x="595.70" y="278.00">1/7</text>
<text x="682.60" y="278.00">1/13</text>
<text x="769.50" y="278.00">1/16</text>
<text x="812.95" y="278.00">1/18</text>
<text x="856.40" y="278.00">1/20</text>
<text x="899.85" y="278.00">1/22</text>
<text x="943.30" y="278.00">1/24</text>
</g></svg>
</figure>
<footer>
<div class="rule"></div>
<div class="t b" style="left:259px;top:968px;font-size:27px;color:#ebebec;word-spacing:0em;transform:translate(0.96px,0.06px) scaleX(1.0529) rotate(0.03deg);">https://www.pinesports.com/subscribe/</div>
</footer>
</div></body></html>
